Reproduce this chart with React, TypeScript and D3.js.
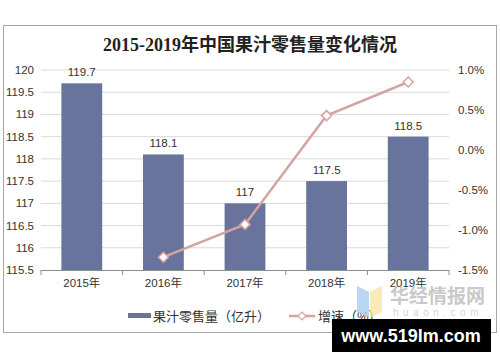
import * as d3 from "d3";

const years = ["2015年", "2016年", "2017年", "2018年", "2019年"];
const sales = [119.7, 118.1, 117, 117.5, 118.5];
const growth = [null, -1.34, -0.93, 0.43, 0.85];
const leftTicks = [115.5, 116, 116.5, 117, 117.5, 118, 118.5, 119, 119.5, 120];
const rightTicks = [-1.5, -1.0, -0.5, 0.0, 0.5, 1.0];

const W = 500;
const H = 362;
const sans = "'Liberation Sans', Arial, 'Noto Sans CJK SC', sans-serif";

export default function App() {
  const x = d3.scaleBand().domain(years).range([41, 449]).paddingInner(0.5).paddingOuter(0.25);
  const band = d3.scaleBand().domain(years).range([41, 449]);
  const y = d3.scaleLinear().domain([115.5, 120]).range([270, 70]);
  const y2 = d3.scaleLinear().domain([-1.5, 1.0]).range([270, 70]);

  const pts = years
    .map((yr, i) => ({ yr, v: growth[i] }))
    .filter((d) => d.v !== null);
  const line = d3
    .line<{ yr: string; v: number | null }>()
    .x((d) => band(d.yr)! + band.bandwidth() / 2)
    .y((d) => y2(d.v as number));

  return (
    <svg width={W} height={H} style={{ position: "absolute", left: 0, top: 0 }}>
      <rect x={0} y={0} width={W} height={H} fill="#fff" />
      <rect x={3.5} y={25.5} width={493} height={307} fill="#fff" stroke="#a6a6a6" />
      <text
        x={250}
        y={51}
        textAnchor="middle"
        fontFamily="'Liberation Serif', 'Noto Sans CJK SC', serif"
        fontWeight="bold"
        fontSize={18}
        fill="#222"
      >
        2015-2019年中国果汁零售量变化情况
      </text>

      {leftTicks.map((t) => (
        <g key={t}>
          {t !== 115.5 && (
            <line x1={41} x2={449} y1={y(t)} y2={y(t)} stroke="#d9d9d9" />
          )}
          <text x={34} y={y(t) + 4} textAnchor="end" fontFamily={sans} fontSize={11.5} fill="#333">
            {t}
          </text>
        </g>
      ))}
      {rightTicks.map((t) => (
        <text key={t} x={458} y={y2(t) + 4} fontFamily={sans} fontSize={11.5} fill="#333">
          {t.toFixed(1)}%
        </text>
      ))}

      {years.map((yr, i) => (
        <g key={yr}>
          <rect
            x={x(yr)}
            y={y(sales[i])}
            width={x.bandwidth()}
            height={270 - y(sales[i])}
            fill="#68749b"
          />
          <text
            x={x(yr)! + x.bandwidth() / 2}
            y={y(sales[i]) - 7}
            textAnchor="middle"
            fontFamily={sans}
            fontSize={11.5}
            fill="#333"
          >
            {sales[i]}
          </text>
          <text
            x={band(yr)! + band.bandwidth() / 2}
            y={287}
            textAnchor="middle"
            fontFamily={sans}
            fontSize={11.5}
            fill="#333"
          >
            {yr}
          </text>
        </g>
      ))}

      <line x1={41} x2={449} y1={270.5} y2={270.5} stroke="#8c8c8c" />
      {band.domain().concat([""]).map((yr, i) => {
        const xx = 41 + i * band.bandwidth();
        return <line key={i} x1={xx} x2={xx} y1={270} y2={275} stroke="#8c8c8c" />;
      })}

      <path d={line(pts) || ""} fill="none" stroke="#d6a3a2" strokeWidth={2.5} />
      {pts.map((d) => {
        const cx = band(d.yr)! + band.bandwidth() / 2;
        const cy = y2(d.v as number);
        return (
          <path
            key={d.yr}
            d={`M${cx},${cy - 5}L${cx + 5},${cy}L${cx},${cy + 5}L${cx - 5},${cy}Z`}
            fill="#fff"
            stroke="#d6a3a2"
            strokeWidth={1.5}
          />
        );
      })}

      {/* legend */}
      <rect x={128} y={313} width={23} height={5} fill="#68749b" />
      <text x={153} y={321} fontFamily={sans} fontSize={13} fill="#333">
        果汁零售量（亿升）
      </text>
      <line x1={289} x2={315} y1={316} y2={316} stroke="#d6a3a2" strokeWidth={2.5} />
      <path d="M302,312L306,316L302,320L298,316Z" fill="#fff" stroke="#d6a3a2" strokeWidth={1.2} />
      <text x={318} y={321} fontFamily={sans} fontSize={13} fill="#333">
        增速（%）
      </text>

      {/* watermark */}
      <path d="M357,286L369,292L369,318L357,312Z" fill="#a9ccef" opacity={0.8} />
      <path d="M370,292L382,286L382,312L370,318Z" fill="#f6e6a0" opacity={0.8} />
      <text x={390} y={303} fontFamily={sans} fontSize={19} fontWeight="bold" fill="#c9c9c9">
        华经情报网
      </text>
      <text x={393} y={316} fontFamily={sans} fontSize={10} letterSpacing={4.5} fill="#d4d4d4">
        huaon.com
      </text>
      <rect x={332} y={319} width={159} height={33} fill="#000" />
      <text x={411} y={342} textAnchor="middle" fontFamily={sans} fontWeight="bold" fontSize={18} fill="#fff">
        www.519lm.com
      </text>
    </svg>
  );
}
